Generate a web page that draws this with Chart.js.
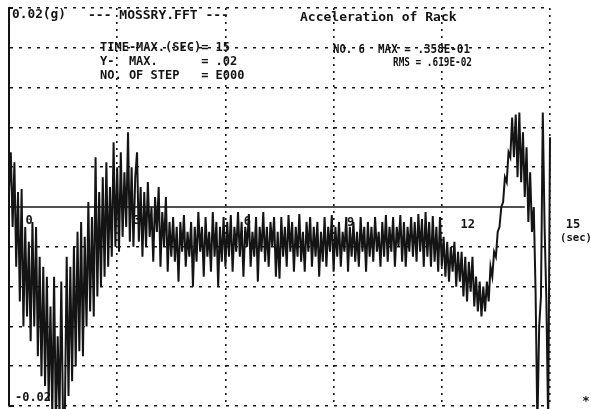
<!DOCTYPE html>
<html>
<head>
<meta charset="utf-8">
<title>Acceleration of Rack</title>
<script src="https://cdn.jsdelivr.net/npm/chart.js@4.4.1/dist/chart.umd.min.js"></script>
<style>
  html, body { margin: 0; padding: 0; background: #fff; }
  #wrap { width: 591px; height: 409px; }
</style>
</head>
<body>
<div id="wrap"><canvas id="chart" width="591" height="409"></canvas></div>
<script>
// -------------------------
// Datos (aceleracion en 1e-3 g, una muestra cada 0.05 s)
// -------------------------
const sampleStep = 0.05;
const accelMg = [
  // 0 - 0.55 s
  1.5, 5.5, -2, 4.5, -6, 1.5, -9.5, 1.8, -12, -2, -11, -3.5,
  // caida inicial
  -13.5, -1.5, -12, -2, -15,
  -5, -17, -6, -18, -7, -19.5,
  -10, -21, -7, -22, -13, -21, -7.5, -22,
  -20.5, -5, -19, -6, -17.5, -4,
  -16, -2.5, -14.5, -1.5, -15, -3,
  // subida hacia el pico de 3 s
  -12, 0.5, -10.5, -1, -11, 5, -9,
  1.5, -8, 3, -7, 4.5, -6,
  2, -5, 6.5, -4, 4, -4.5, 5.5,
  -3, 3.5, -2, 7.5, -3.5, 4, -4, 3,
  5.5, -3.5, 2, -5, 1.5,
  -4, 2.5, -3, 0, -5.5, 1, -2.5, 2, -6, -0.5, -4, 1, -6.5, -1.5, -5,
  // tramo estable 4.5 - 6 s
  -1, -5.5, -2, -7.5, -1.5, -4.5, -0.8, -6, -2.5, -5,
  -1.5, -8, -2, -5.5, -0.5, -4.5, -2, -7, -1, -5,
  -2.5, -6.5, -0.5, -5, -1.5, -8, -2, -5.5, -1, -6,
  // 6 - 9 s
  -1.5, -5, -0.8, -6.5, -2, -4.5, -0.5, -5, -1.5, -7,
  -2, -4, -0.7, -6, -2.5, -5, -1, -7.5, -2, -4.5,
  -0.5, -5.5, -2, -6, -1.5, -4, -1, -7, -2.5, -7.2,
  -1, -5, -2, -6, -0.8, -4.5, -1.5, -6.5, -2, -5,
  -0.7, -5.5, -2.5, -6.5, -1.5, -4.5, -1, -6, -2, -5,
  -1.5, -7, -2.5, -5.5, -1, -6, -2, -4.5, -0.8, -6.5,
  // 9 - 11.25 s
  -2, -5, -1.5, -6, -2.5, -4.5, -1, -6.5, -2, -5,
  -1.5, -5.5, -2.5, -6, -1, -4.5, -2, -6.5, -1.5, -5,
  -2, -5.5, -1, -4.5, -2.5, -6, -1.5, -5, -0.8, -5.5,
  -2, -4.5, -1, -6, -2, -4, -0.8, -5.5, -1.5, -6,
  -2, -4.5, -1, -5, -1.5,
  // 11.3 - 12 s
  -5.5, -0.7, -4.5, -1.2, -6, -0.5, -5, -1.5, -6, -0.9, -5.5, -2, -6.5, -1, -6,
  // bajada 12 - 13.2 s
  -3, -7, -3.5, -7.5, -4, -6.5, -3.5, -8, -4.5, -7.5,
  -4.5, -9, -5, -9.5, -5.5, -8.5, -5, -10,
  -7, -10.5, -7.5, -11, -8, -10.5,
  // subida final y oscilacion 13.25 - 15 s
  -7.5, -9.5, -6, -7, -4.5, -5, -2.5, -2, 0, 0.5,
  3, 2.5, 5.5, 5, 9, 5, 9.3, 3, 9.5, 2.5,
  7.5, 1, 6, -1.5, 3.5, -2.5, 0, -8.5, -22, -12,
  -9, 9.5, -2, -9.5, -22, 7
];

// linea de cero (termina antes del borde derecho)
const zeroLineTime  = [0, 14.3];
const zeroLineValue = [0, 0];

// ejes
const timeTicks      = [0, 3, 6, 9, 12, 15];
const timeTickLabels = ["0", "3", "6", "9", "12", "15"];
const xMin = 0, xMax = 15, xStep = 3;
const yMin = -20, yMax = 20, yStep = 4;

// -------------------------
// Estilo
// -------------------------
const INK = "#141414";
const FONT = "'DejaVu Sans Mono', 'Liberation Mono', monospace";
const CLEAR = "rgba(0,0,0,0)";

function put(ctx, txt, x, y, size, maxW) {
  ctx.font = "bold " + size + "px " + FONT;
  if (maxW) ctx.fillText(txt, x, y, maxW);
  else ctx.fillText(txt, x, y);
}

// etiquetas de tiempo dentro del area, bajo la linea de cero
const tickLabelPlugin = {
  id: "tickLabels",
  beforeDatasetsDraw(chart) {
    const ctx = chart.ctx, xs = chart.scales.x, ys = chart.scales.y;
    const y0 = ys.getPixelForValue(0);
    const dx = [20, 20, 22, 17, 26, 23];
    const dy = [14, 14, 15, 16, 18, 18];
    ctx.save();
    ctx.fillStyle = INK;
    ctx.textAlign = "center";
    ctx.textBaseline = "middle";
    timeTicks.forEach((t, k) => {
      put(ctx, timeTickLabels[k], xs.getPixelForValue(t) + dx[k], y0 + dy[k], 12);
    });
    put(ctx, "(sec)", xs.getPixelForValue(15) + 26, y0 + 31, 11, 32);
    ctx.restore();
  }
};

// textos del encabezado y marcas del eje izquierdo
const notesPlugin = {
  id: "notes",
  afterDraw(chart) {
    const ctx = chart.ctx, a = chart.chartArea;
    ctx.save();
    ctx.strokeStyle = INK;
    ctx.lineWidth = 2;
    ctx.beginPath();
    ctx.moveTo(a.left, a.top); ctx.lineTo(a.left + 4, a.top);
    ctx.moveTo(a.left, a.bottom); ctx.lineTo(a.left + 5, a.bottom);
    ctx.stroke();

    ctx.fillStyle = INK;
    ctx.textAlign = "left";
    ctx.textBaseline = "middle";
    put(ctx, "0.02(g)", 12, 15, 13, 54);
    put(ctx, "--- MOSSRY.FFT ---", 88, 16, 13, 148);
    put(ctx, "Acceleration of Rack", 300, 18, 13, 162);
    put(ctx, "TIME-MAX.(SEC)= 15", 100, 48, 12, 148);
    put(ctx, "Y-  MAX.      = .02", 100, 62, 12, 155);
    put(ctx, "NO. OF STEP   = E000", 100, 76, 12, 162);
    put(ctx, "NO. 6", 333, 50, 12, 32);
    put(ctx, "MAX = .358E-01", 378, 50, 12, 92);
    put(ctx, "RMS = .619E-02", 393, 63, 12, 79);
    put(ctx, "-0.02", 15, 398, 12, 36);
    put(ctx, "*", 582, 402, 13);
    ctx.restore();
  }
};

// -------------------------
// Grafico
// -------------------------
const tracePoints = accelMg.map((v, i) => ({ x: i * sampleStep, y: v }));
const zeroPoints = zeroLineTime.map((t, i) => ({ x: t, y: zeroLineValue[i] }));

new Chart(document.getElementById("chart").getContext("2d"), {
  type: "line",
  data: {
    datasets: [
      { data: zeroPoints, borderColor: INK, borderWidth: 1.6, pointRadius: 0, tension: 0 },
      { data: tracePoints, borderColor: INK, borderWidth: 2, pointRadius: 0, tension: 0,
        clip: { left: 0, right: 3, top: 0, bottom: 4 } }
    ]
  },
  options: {
    responsive: false,
    animation: false,
    devicePixelRatio: 1,
    layout: { padding: { left: 9, right: 41, top: 8, bottom: 3 } },
    plugins: { legend: { display: false }, tooltip: { enabled: false } },
    scales: {
      x: {
        type: "linear", min: xMin, max: xMax,
        ticks: { display: false, stepSize: xStep },
        grid: { color: c => (c.tick && c.tick.value === 0 ? CLEAR : INK), lineWidth: 1.6, drawTicks: false },
        border: { display: false, dash: [2, 5] }
      },
      y: {
        min: yMin, max: yMax,
        ticks: { display: false, stepSize: yStep },
        grid: { color: c => (c.tick && c.tick.value === 0 ? CLEAR : INK), lineWidth: 1.6, drawTicks: false },
        border: { display: true, color: INK, width: 2, dash: [3, 6] }
      }
    }
  },
  plugins: [tickLabelPlugin, notesPlugin]
});
</script>
</body>
</html>
